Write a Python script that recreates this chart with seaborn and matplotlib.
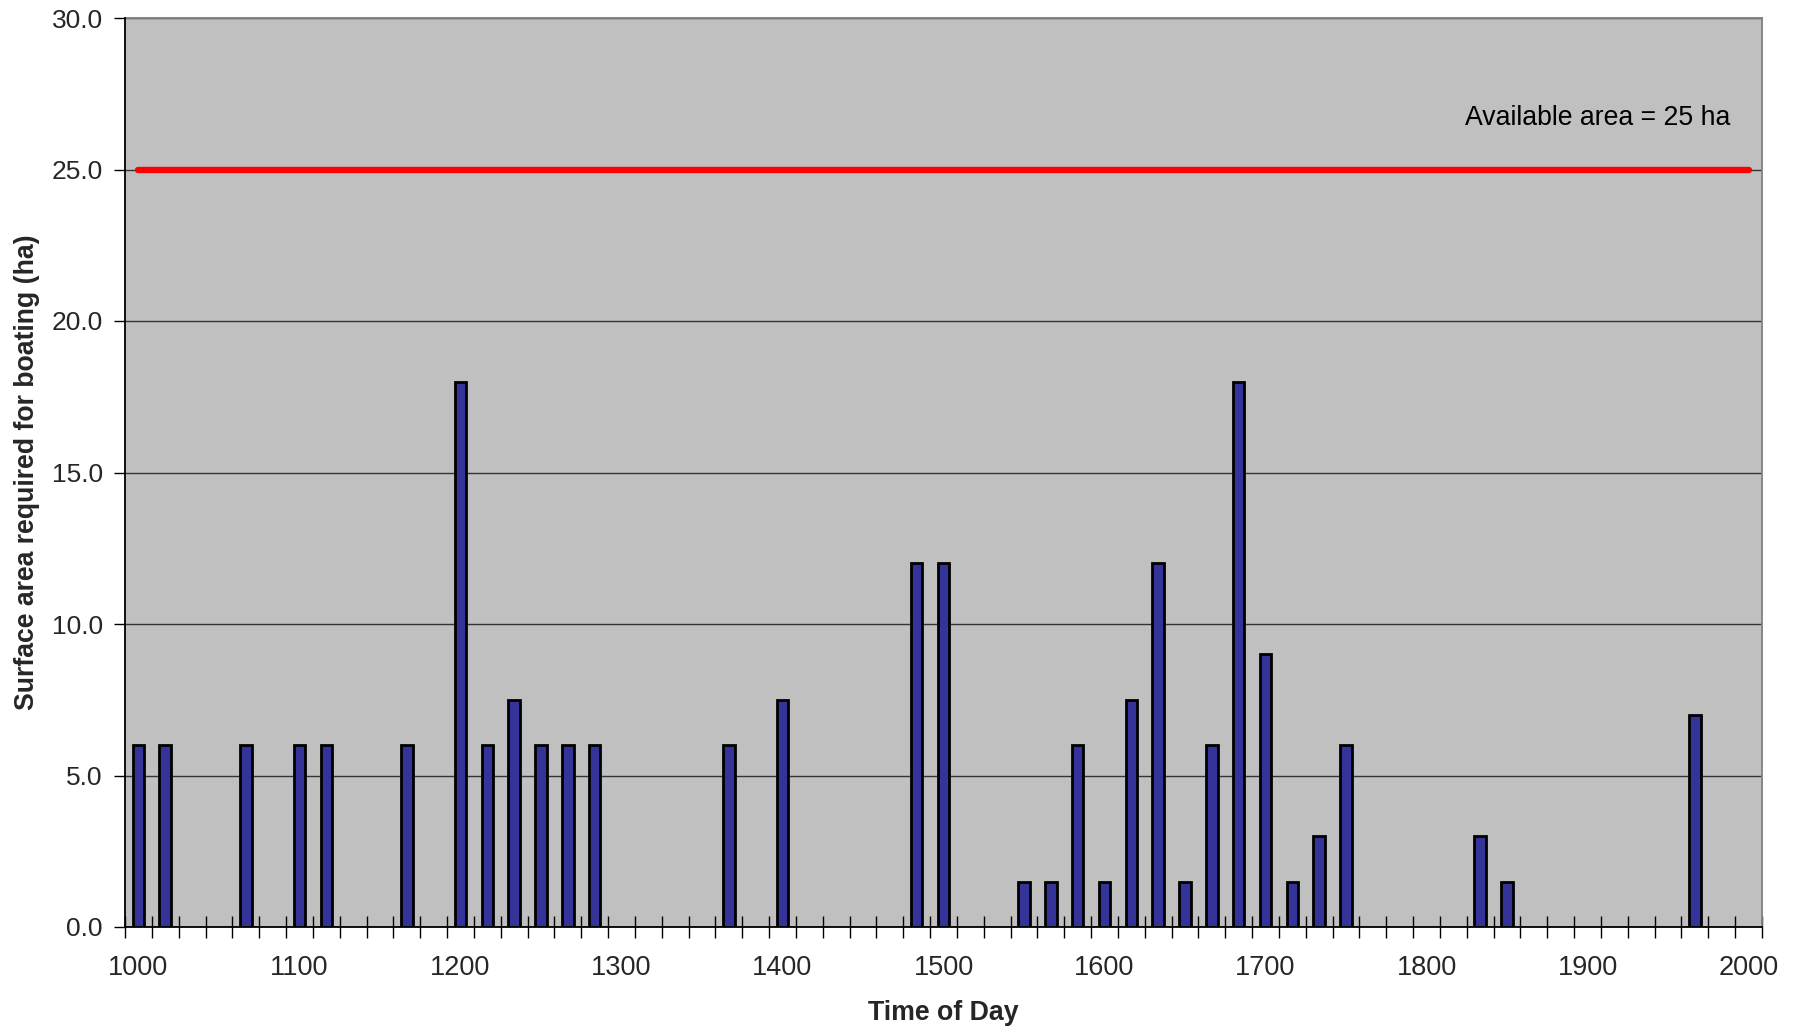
import matplotlib
matplotlib.use("Agg")
import matplotlib.pyplot as plt
import seaborn as sns
import numpy as np
import pandas as pd

# ---- data ----
time_slots = [
    "1000", "1010", "1020", "1030", "1040", "1050",
    "1100", "1110", "1120", "1130", "1140", "1150",
    "1200", "1210", "1220", "1230", "1240", "1250",
    "1300", "1310", "1320", "1330", "1340", "1350",
    "1400", "1410", "1420", "1430", "1440", "1450",
    "1500", "1510", "1520", "1530", "1540", "1550",
    "1600", "1610", "1620", "1630", "1640", "1650",
    "1700", "1710", "1720", "1730", "1740", "1750",
    "1800", "1810", "1820", "1830", "1840", "1850",
    "1900", "1910", "1920", "1930", "1940", "1950",
    "2000",
]
bar_times = ["1000", "1010", "1040", "1100", "1110", "1140", "1200", "1210",
             "1220", "1230", "1240", "1250", "1340", "1400", "1450", "1500",
             "1530", "1540", "1550", "1600", "1610", "1620", "1630", "1640",
             "1650", "1700", "1710", "1720", "1730", "1820", "1830", "1940"]
bar_values = [6, 6, 6, 6, 6, 6, 18, 6,
              7.5, 6, 6, 6, 6, 7.5, 12, 12,
              1.5, 1.5, 6, 1.5, 7.5, 12, 1.5, 6,
              18, 9, 1.5, 3, 6, 3, 1.5, 7]
tick_labels = ["1000", "1100", "1200", "1300", "1400", "1500",
               "1600", "1700", "1800", "1900", "2000"]
available_area = 25
y_ticks = [0, 5, 10, 15, 20, 25, 30]

df = pd.DataFrame({"time": bar_times, "area": bar_values})

# ---- figure ----
sns.set_style("white")
plt.rcParams["font.family"] = ["Liberation Sans", "DejaVu Sans"]

fig = plt.figure(figsize=(18.01, 10.29), dpi=100)
ax = fig.add_axes([125 / 1801, 102 / 1029, 1637 / 1801, 909 / 1029])
ax.set_facecolor("#C0C0C0")

sns.barplot(data=df, x="time", y="area", order=time_slots, ax=ax,
            color="#333399", saturation=1, width=0.43,
            edgecolor="black", linewidth=2.0, zorder=3)

# available-area line
x0 = time_slots.index("1000")
x1 = time_slots.index("2000")
ax.plot([x0, x1], [available_area, available_area], color="#FF0000",
        linewidth=4.6, solid_capstyle="round", zorder=4)
ax.text(0.9805, 0.89, "Available area = %d ha" % available_area,
        transform=ax.transAxes, ha="right", va="center", fontsize=19.2,
        color="black", zorder=5)

# axes limits
ax.set_xlim(-0.5, len(time_slots) - 0.5)
ax.set_ylim(y_ticks[0], y_ticks[-1])

# y axis
ax.set_yticks(y_ticks)
ax.set_yticklabels(["%.1f" % v for v in y_ticks], fontsize=19)
ax.tick_params(axis="y", which="major", direction="out", length=8,
               width=1.0, color="black", pad=8, left=True)
ax.yaxis.grid(True, color="#333333", linewidth=1.0, zorder=1)
ax.set_axisbelow(True)

# x axis: tick marks at category boundaries, labels at hours
ax.set_xticks(np.arange(-0.5, len(time_slots), 1.0))
ax.set_xticklabels([])
ax.tick_params(axis="x", which="major", direction="inout", length=16,
               width=1.0, color="black", bottom=True)
label_pos = [time_slots.index(t) for t in tick_labels]
ax.set_xticks(label_pos, minor=True)
ax.set_xticklabels(tick_labels, minor=True, fontsize=19.5)
ax.tick_params(axis="x", which="minor", length=0, pad=20)
ax.xaxis.grid(False)

ax.set_xlabel("Time of Day", fontsize=19.3, fontweight="bold", labelpad=14)
ax.set_ylabel("Surface area required for boating (ha)", fontsize=19.2,
              fontweight="bold", labelpad=8)

for side in ["left", "bottom"]:
    ax.spines[side].set_color("black")
    ax.spines[side].set_linewidth(1.3)
    ax.spines[side].set_zorder(6)
for side in ["top", "right"]:
    ax.spines[side].set_color("#808080")
    ax.spines[side].set_linewidth(1.3)

fig.savefig("out.png", dpi=100, facecolor="white")
